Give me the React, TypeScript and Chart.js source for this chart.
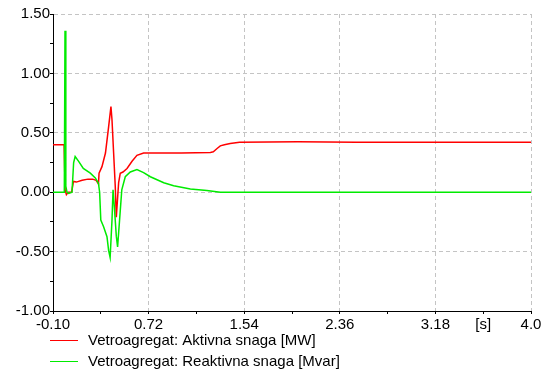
import React, { useEffect, useRef } from "react";
import { Chart, registerables } from "chart.js";

Chart.register(...registerables);

const seriesNames = [
  "Vetroagregat: Aktivna snaga [MW]",
  "Vetroagregat: Reaktivna snaga [Mvar]",
];

// Active power (red)
const tActive = [
  -0.1, -0.005, 0.0, 0.004, 0.015, 0.03, 0.06, 0.075, 0.1, 0.15, 0.2, 0.24, 0.27, 0.29,
  0.295, 0.32, 0.35, 0.377, 0.397, 0.406, 0.42, 0.434, 0.443, 0.463, 0.477, 0.5, 0.535,
  0.578, 0.62, 0.677, 0.72, 1.0, 1.25, 1.275, 1.31, 1.335, 1.37, 1.42, 1.5, 2.0, 2.5,
  3.0, 3.5, 4.0,
];
const pActive = [
  0.4, 0.4, 0.4, 0.02, -0.02, 0.0, 0.0, 0.09, 0.085, 0.1, 0.11, 0.11, 0.1, 0.07,
  0.16, 0.215, 0.33, 0.55, 0.72, 0.61, 0.33, 0.05, -0.21, 0.08, 0.16, 0.17, 0.2,
  0.26, 0.31, 0.33, 0.33, 0.33, 0.335, 0.34, 0.37, 0.39, 0.4, 0.41, 0.42, 0.425, 0.42,
  0.42, 0.42, 0.42,
];

// Reactive power (green)
const tReactive = [
  -0.1, -0.003, 0.0, 0.003, 0.01, 0.02, 0.035, 0.063, 0.077, 0.09, 0.12, 0.16, 0.22,
  0.263, 0.29, 0.3, 0.31, 0.334, 0.363, 0.377, 0.39, 0.406, 0.415, 0.426, 0.443, 0.454,
  0.471, 0.49, 0.52, 0.563, 0.62, 0.677, 0.735, 0.85, 0.935, 1.078, 1.22, 1.335, 1.5,
  2.0, 3.0, 4.0,
];
const qReactive = [
  0.0, 0.0, 0.0, 1.36, 0.05, 0.0, -0.01, 0.0, 0.25, 0.3, 0.26, 0.2, 0.16,
  0.12, 0.075, 0.0, -0.235, -0.29, -0.375, -0.49, -0.55, -0.235, 0.02, -0.12, -0.37, -0.46,
  -0.235, 0.02, 0.13, 0.17, 0.19, 0.165, 0.13, 0.08, 0.055, 0.027, 0.015, 0.0, 0.0,
  0.0, 0.0, 0.0,
];

const xTickLabels = ["-0.10", "", "0.72", "", "1.54", "", "2.36", "", "3.18", "[s]", "4.0"];
const yTickLabels = ["-1.00", "", "-0.50", "", "0.00", "", "0.50", "", "1.00", "", "1.50"];

const colors = ["rgb(255,0,0)", "rgb(0,235,0)"];
const FONT = "'Liberation Sans', Arial, sans-serif";

const legendPlugin = {
  id: "customLegend",
  afterDraw(chart: any) {
    const ctx = chart.ctx;
    const rows = [340, 361];
    ctx.save();
    seriesNames.forEach((name, i) => {
      const y = rows[i];
      ctx.strokeStyle = colors[i];
      ctx.lineWidth = 1;
      ctx.beginPath();
      ctx.moveTo(50, y + 0.5);
      ctx.lineTo(78, y + 0.5);
      ctx.stroke();
      ctx.fillStyle = "#000";
      ctx.font = `15px ${FONT}`;
      ctx.textBaseline = "middle";
      ctx.textAlign = "left";
      ctx.fillText(name, 88, y + 1);
    });
    ctx.restore();
  },
};

export default function App() {
  const ref = useRef<HTMLCanvasElement>(null);
  useEffect(() => {
    if (!ref.current) return;
    const chart = new Chart(ref.current, {
      type: "line",
      data: {
        datasets: [
          {
            label: seriesNames[0],
            data: tActive.map((t, i) => ({ x: t, y: pActive[i] })),
            borderColor: colors[0],
            borderWidth: 1.5,
            pointRadius: 0,
            tension: 0,
            order: 1,
          },
          {
            label: seriesNames[1],
            data: tReactive.map((t, i) => ({ x: t, y: qReactive[i] })),
            borderColor: colors[1],
            borderWidth: 1.5,
            pointRadius: 0,
            tension: 0,
            order: 0,
          },
        ],
      },
      options: {
        responsive: false,
        animation: false,
        layout: { padding: { top: 14, right: 16, left: 0, bottom: 0 } },
        plugins: { legend: { display: false }, tooltip: { enabled: false } },
        scales: {
          x: {
            type: "linear",
            min: -0.1,
            max: 4.0,
            afterFit: (s: any) => {
              s.height = 63;
            },
            ticks: {
              stepSize: 0.41,
              autoSkip: false,
              maxRotation: 0,
              padding: 2,
              color: "#000",
              font: { family: FONT, size: 15 },
              callback: (_v: any, i: number) => xTickLabels[i] ?? "",
            },
            grid: {
              color: (c: any) => (c.index % 2 === 0 ? "#c4c4c4" : "rgba(0,0,0,0)"),
              tickColor: "#000",
              tickLength: 3,
              lineWidth: 1,
            },
            border: { display: true, color: "#000", width: 1, dash: [4, 3] },
          },
          y: {
            min: -1,
            max: 1.5,
            afterFit: (s: any) => {
              s.width = 53;
            },
            ticks: {
              stepSize: 0.25,
              autoSkip: false,
              padding: 0,
              color: "#000",
              font: { family: FONT, size: 15 },
              callback: (_v: any, i: number) => yTickLabels[i] ?? "",
            },
            grid: {
              color: (c: any) => (c.index % 2 === 0 ? "#c4c4c4" : "rgba(0,0,0,0)"),
              tickColor: "#000",
              tickLength: 3,
              lineWidth: 1,
            },
            border: { display: true, color: "#000", width: 1, dash: [4, 3] },
          },
        },
      },
      plugins: [legendPlugin],
    } as any);
    return () => chart.destroy();
  }, []);
  return (
    <div style={{ position: "fixed", left: 0, top: 0, width: 547, height: 374, background: "#fff" }}>
      <canvas ref={ref} width={547} height={374} style={{ width: 547, height: 374 }} />
    </div>
  );
}
